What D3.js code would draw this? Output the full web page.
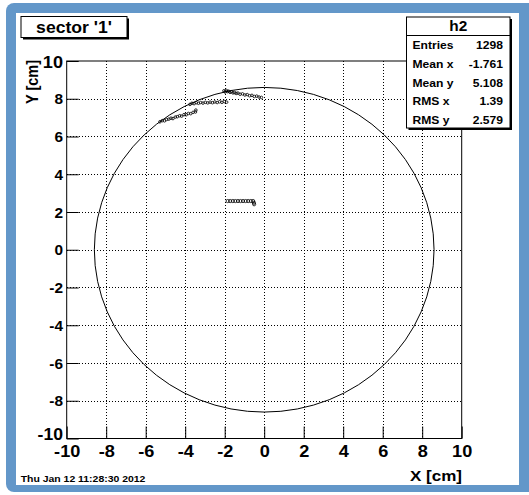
<!DOCTYPE html>
<html>
<head>
<meta charset="utf-8">
<script src="https://cdn.jsdelivr.net/npm/d3@7"></script>
<style>
  html, body { margin: 0; padding: 0; background: #ffffff; }
  svg { display: block; }
  text { font-family: "Liberation Sans", Arial, Helvetica, sans-serif; font-weight: bold; fill: #000; }
</style>
</head>
<body>
<svg id="chart" width="529" height="495"></svg>
<script>
// ---- chart data ----
const titleText = "sector '1'";
const histName = "h2";
const statLabels = ["Entries", "Mean x", "Mean y", "RMS x", "RMS y"];
const statValues = ["1298", "-1.761", "5.108", "1.39", "2.579"];
const xTicks = [-10, -8, -6, -4, -2, 0, 2, 4, 6, 8, 10];
const yTicks = [-10, -8, -6, -4, -2, 0, 2, 4, 6, 8, 10];
const xAxisTitle = "X [cm]";
const yAxisTitle = "Y [cm]";
const dateStamp = "Thu Jan 12 11:28:30 2012";

// sector boundary circle (cm)
const ringCenter = [0, 0];
const ringRadius = 8.6;

// scatter entries, grouped by track segment (x, y in cm)
const segmentLow = [
  [-5.28, 6.78], [-5.16, 6.84], [-5.05, 6.83], [-4.94, 6.90], [-4.83, 6.92],
  [-4.72, 6.97], [-4.62, 6.95], [-4.50, 7.03], [-4.40, 7.05], [-4.28, 7.10],
  [-4.18, 7.08], [-4.06, 7.16], [-3.95, 7.15], [-3.84, 7.22], [-3.72, 7.21],
  [-3.60, 7.28], [-3.48, 7.30], [-3.46, 7.40]
];
const segmentMid = [
  [-3.76, 7.70], [-3.66, 7.76], [-3.55, 7.74], [-3.44, 7.79], [-3.33, 7.76],
  [-3.22, 7.80], [-3.10, 7.77], [-2.98, 7.81], [-2.86, 7.78], [-2.74, 7.82],
  [-2.62, 7.79], [-2.50, 7.83], [-2.38, 7.80], [-2.26, 7.84], [-2.14, 7.81],
  [-2.02, 7.85], [-1.90, 7.82]
];
const segmentHigh = [
  [-2.04, 8.42], [-1.98, 8.36], [-1.92, 8.44], [-1.86, 8.38], [-1.80, 8.40],
  [-1.73, 8.34], [-1.66, 8.37], [-1.58, 8.31], [-1.50, 8.33], [-1.42, 8.28],
  [-1.33, 8.30], [-1.22, 8.24], [-1.10, 8.26], [-0.98, 8.20], [-0.86, 8.22],
  [-0.74, 8.16], [-0.62, 8.18], [-0.50, 8.12], [-0.38, 8.14], [-0.26, 8.09],
  [-0.14, 8.07]
];
const segmentInner = [
  [-1.85, 2.58], [-1.72, 2.58], [-1.59, 2.58], [-1.46, 2.58], [-1.33, 2.58],
  [-1.20, 2.58], [-1.07, 2.58], [-0.94, 2.58], [-0.81, 2.58], [-0.68, 2.58],
  [-0.56, 2.58], [-0.52, 2.49], [-0.51, 2.41]
];

// ---- layout ----
const W = 529, H = 495;
const frame = { left: 66.7, right: 461.7, top: 61, bottom: 438.5 };
const blue = "#6397c9";
const sx = 1.1; // horizontal text stretch of the canvas

const svg = d3.select("#chart");

// canvas border
svg.append("rect").attr("x", 0).attr("y", 0).attr("width", W).attr("height", H).attr("fill", "#fff");
svg.append("rect").attr("x", 6).attr("y", 3).attr("width", W + 10).attr("height", 489)
  .attr("rx", 8).attr("fill", blue);
svg.append("rect").attr("x", 16).attr("y", 13).attr("width", 503).attr("height", 472).attr("fill", "#fff");

const x = d3.scaleLinear().domain([-10, 10]).range([frame.left, frame.right]);
const y = d3.scaleLinear().domain([-10, 10]).range([frame.bottom, frame.top]);

function label(parent, px, py, str, size, anchor) {
  return parent.append("text")
    .attr("transform", `translate(${px},${py}) scale(${sx},1)`)
    .attr("text-anchor", anchor)
    .style("font-size", size + "px")
    .text(str);
}

// grid
const grid = svg.append("g").attr("stroke", "#000").attr("stroke-width", 1)
  .attr("stroke-dasharray", "1,2").attr("shape-rendering", "crispEdges");
grid.selectAll("line.gx").data(xTicks.slice(1, -1)).join("line")
  .attr("x1", d => Math.round(x(d)) + 0.5).attr("x2", d => Math.round(x(d)) + 0.5)
  .attr("y1", frame.top).attr("y2", frame.bottom);
grid.selectAll("line.gy").data(yTicks.slice(1, -1)).join("line")
  .attr("y1", d => Math.round(y(d)) + 0.5).attr("y2", d => Math.round(y(d)) + 0.5)
  .attr("x1", frame.left).attr("x2", frame.right);

// minor tick positions (5 subdivisions per major interval)
const minorOf = ticks => d3.range(ticks[0], ticks[ticks.length - 1] + 1e-9, 0.4)
  .filter(v => Math.abs(v / 2 - Math.round(v / 2)) > 1e-6);

// x axis
const gx = svg.append("g").attr("transform", `translate(0,${frame.bottom})`);
gx.call(d3.axisBottom(x).tickValues(minorOf(xTicks)).tickSize(-6).tickFormat(""));
gx.call(d3.axisBottom(x).tickValues(xTicks).tickSize(-12).tickFormat(d => String(d)));
gx.select(".domain").remove();
gx.selectAll(".tick line").attr("stroke", "#000");
gx.selectAll(".tick text")
  .attr("y", 19).attr("dy", null)
  .attr("transform", `scale(${sx},1)`)
  .style("font-size", "16.5px").style("font-family", null);

// y axis
const gy = svg.append("g").attr("transform", `translate(${frame.left},0)`);
gy.call(d3.axisLeft(y).tickValues(minorOf(yTicks)).tickSize(-6).tickFormat(""));
gy.call(d3.axisLeft(y).tickValues(yTicks).tickSize(-12).tickFormat(d => String(d)));
gy.select(".domain").remove();
gy.selectAll(".tick line").attr("stroke", "#000");
gy.selectAll(".tick text")
  .attr("x", -3.4).attr("dy", null)
  .attr("transform", `scale(${sx},1)`)
  .style("font-family", null)
  .style("font-size", d => (d === 10 ? "16.5px" : d === -10 ? "16px" : "14px"))
  .attr("y", d => (d === 10 ? 6 : d === -10 ? 0.5 : 5));

// frame
svg.append("rect").attr("x", frame.left).attr("y", frame.top)
  .attr("width", frame.right - frame.left).attr("height", frame.bottom - frame.top)
  .attr("fill", "none").attr("stroke", "#000").attr("stroke-width", 1);

// sector boundary
svg.append("ellipse")
  .attr("cx", x(ringCenter[0])).attr("cy", y(ringCenter[1]))
  .attr("rx", x(ringRadius) - x(0)).attr("ry", y(0) - y(ringRadius))
  .attr("fill", "none").attr("stroke", "#000").attr("stroke-width", 1);

// scatter entries
const pts = svg.append("g").attr("fill", "none").attr("stroke", "#000").attr("stroke-width", 0.8);
[segmentLow, segmentMid, segmentHigh].forEach(seg => {
  pts.append("g").selectAll("circle").data(seg).join("circle")
    .attr("cx", d => x(d[0])).attr("cy", d => y(d[1])).attr("r", 1.3);
});
pts.append("g").selectAll("circle").data(segmentInner).join("circle")
  .attr("cx", d => x(d[0])).attr("cy", d => y(d[1])).attr("r", 1.6);

// axis titles
label(svg, 462, 481, xAxisTitle, 15.5, "end");
svg.append("text")
  .attr("transform", `translate(38,60) scale(${sx},1) rotate(-90)`)
  .attr("text-anchor", "end")
  .style("font-size", "14.5px")
  .text(yAxisTitle);

// title box
const tb = { x: 21, y: 16.5, w: 106, h: 21 };
svg.append("rect").attr("x", tb.x + 2).attr("y", tb.y + 2).attr("width", tb.w).attr("height", tb.h).attr("fill", "#000");
svg.append("rect").attr("x", tb.x).attr("y", tb.y).attr("width", tb.w).attr("height", tb.h)
  .attr("fill", "#fff").attr("stroke", "#000").attr("stroke-width", 1);
label(svg, tb.x + tb.w / 2, 32.8, titleText, 16, "middle");

// statistics box
const sb = { x: 406.5, y: 17, w: 103.5, h: 111 };
svg.append("rect").attr("x", sb.x + 2).attr("y", sb.y + 2).attr("width", sb.w).attr("height", sb.h).attr("fill", "#000");
svg.append("rect").attr("x", sb.x).attr("y", sb.y).attr("width", sb.w).attr("height", sb.h)
  .attr("fill", "#fff").attr("stroke", "#000").attr("stroke-width", 1);
svg.append("line").attr("x1", sb.x).attr("x2", sb.x + sb.w).attr("y1", 35.5).attr("y2", 35.5)
  .attr("stroke", "#000").attr("stroke-width", 1);
label(svg, sb.x + sb.w / 2, 31, histName, 14, "middle");
statLabels.forEach((s, i) => {
  const by = 49 + i * 18.8;
  label(svg, 412.5, by, s, 11, "start");
  label(svg, 503, by, statValues[i], 11, "end");
});

// date stamp
label(svg, 20.7, 481.5, dateStamp, 9.5, "start");
</script>
</body>
</html>
